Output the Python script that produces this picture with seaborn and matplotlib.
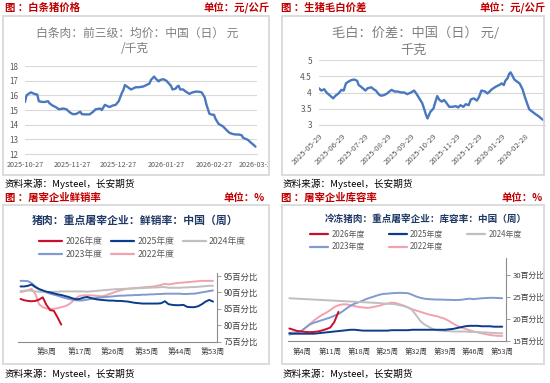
import matplotlib
matplotlib.use("Agg")
import matplotlib.pyplot as plt
from matplotlib.patches import Rectangle
from matplotlib.lines import Line2D
from matplotlib.transforms import Bbox, TransformedBbox
import seaborn as sns
import pandas as pd

# ---------------- data ----------------
# 白条肉 前三级均价 (day offset from 2025-10-27)
wb_day = [0, 1, 3, 4, 6, 8, 9, 11, 13, 15, 16, 18, 20, 22, 25, 27, 29, 31, 33, 36,
          37, 39, 42, 44, 46, 49, 50, 52, 55, 57, 59, 61, 63, 64, 65, 67, 69, 70, 72, 74,
          77, 79, 81, 82, 84, 85, 87, 88, 90, 92, 93, 95, 96, 98, 99, 100, 101, 103, 104, 107,
          109, 111, 113, 115, 117, 118, 120, 121, 123, 124, 126, 127, 129, 131, 133, 135, 137, 139, 141, 142,
          145, 147, 149, 150]
wb_price = [15.55, 16.0, 16.15, 16.2, 16.1, 16.05, 15.6, 15.55, 15.55, 15.6,
            15.45, 15.3, 15.2, 15.05, 15.1, 15.05, 14.85, 14.72, 14.72, 14.88,
            14.72, 14.7, 14.7, 14.85, 15.05, 15.1, 15.0, 15.35, 15.2, 15.3,
            15.35, 15.6, 16.15, 16.35, 16.7, 16.55, 16.4, 16.45, 16.55, 16.55,
            16.6, 16.7, 16.8, 17.05, 17.28, 17.15, 16.95, 17.05, 17.1, 17.0,
            16.88, 16.65, 16.4, 16.45, 16.6, 16.65, 16.4, 16.4, 16.3, 16.1,
            16.2, 16.25, 16.25, 16.2, 15.85, 15.4, 14.75, 14.7, 14.67, 14.4,
            14.05, 14.0, 13.87, 13.65, 13.45, 13.37, 13.33, 13.33, 13.28, 13.1,
            12.97, 12.78, 12.6, 12.5]
wb_ticks = ['2025-10-27', '2025-11-27', '2025-12-27', '2026-01-27', '2026-02-27', '2026-03-27']

# 毛白价差 (day offset from 2025-05-29)
mb_day = [0, 3, 7, 10, 14, 19, 22, 26, 30, 33, 36, 39, 43, 47, 51, 53, 56, 60, 62, 65,
          70, 73, 76, 80, 83, 87, 91, 94, 97, 101, 105, 110, 114, 118, 123, 125, 127, 130, 134, 138,
          141, 143, 145, 147, 149, 153, 155, 158, 161, 164, 167, 170, 174, 178, 183, 186, 189, 193, 196, 200,
          203, 207, 211, 214, 217, 222, 225, 228, 231, 235, 238, 241, 244, 247, 249, 252, 254, 256, 258, 261,
          265, 268, 272, 275, 278, 281, 285, 289, 294, 298, 302]
mb_spread = [4.13, 4.06, 4.1, 4.0, 3.92, 3.82, 3.9, 3.97, 4.08, 4.06,
             4.28, 4.33, 4.38, 4.4, 4.36, 4.23, 4.18, 4.1, 4.06, 4.13,
             4.16, 4.1, 4.06, 3.94, 3.9, 3.92, 3.97, 4.03, 4.08, 4.03,
             4.03, 4.0, 4.0, 3.95, 4.0, 4.03, 4.06, 3.97, 3.82, 3.67,
             3.46, 3.31, 3.2, 3.31, 3.41, 3.51, 3.67, 3.89, 3.77, 3.72,
             3.77, 3.69, 3.56, 3.56, 3.58, 3.54, 3.61, 3.56, 3.64, 3.61,
             3.79, 3.82, 3.75, 3.87, 4.06, 4.03, 3.97, 4.03, 4.1, 4.16,
             4.2, 4.23, 4.28, 4.23, 4.36, 4.44, 4.57, 4.62, 4.54, 4.4,
             4.33, 4.28, 4.1, 3.87, 3.67, 3.48, 3.41, 3.34, 3.26, 3.18, 3.13]
mb_ticks = ['2025-05-29', '2025-06-29', '2025-07-29', '2025-08-29', '2025-09-29',
            '2025-10-29', '2025-11-29', '2025-12-29', '2026-01-29', '2026-02-28']

years = ['2026年度', '2025年度', '2024年度', '2023年度', '2022年度']

# 鲜销率 (weekly)
fx_2026 = [88.0, 87.6, 87.4, 87.3, 87.4, 87.8, 88.5, 86.2, 84.6, 84.4, 82.4, 80.2]
fx_2025 = [91.8, 91.8, 92.0, 92.4, 91.6, 91.0, 90.6, 90.2, 90.0, 89.7,
           89.4, 89.2, 88.9, 88.6, 88.2, 87.9, 88.0, 88.4, 88.6, 88.3,
           88.0, 87.8, 87.7, 87.6, 87.5, 87.5, 87.4, 87.4, 87.3, 87.2,
           87.0, 86.8, 86.7, 86.6, 86.6, 86.6, 86.6, 86.6, 86.7, 87.3,
           86.4, 86.2, 86.1, 86.1, 86.2, 85.6, 85.5, 85.5, 85.8, 86.4,
           87.2, 87.7, 87.2]
fx_2024 = [90.4, 90.5, 90.6, 90.5, 90.3, 90.2, 90.1, 90.1, 90.1, 90.2,
           90.2, 90.3, 90.3, 90.3, 90.3, 90.3, 90.3, 90.3, 90.2, 90.3,
           90.4, 90.5, 90.6, 90.7, 90.8, 90.9, 91.0, 91.0, 91.1, 91.1,
           91.2, 91.2, 91.3, 91.3, 91.4, 91.4, 91.5, 91.5, 91.6, 91.6,
           91.4, 91.4, 91.4, 91.4, 91.5, 91.5, 91.6, 91.6, 91.7, 91.8,
           91.9, 92.0, 92.0]
fx_2023 = [93.5, 93.5, 93.4, 92.8, 91.8, 91.0, 90.5, 90.0, 89.6, 89.3,
           89.0, 88.6, 88.3, 88.0, 87.8, 87.6, 87.5, 87.6, 87.8, 88.0,
           88.2, 88.4, 88.5, 88.6, 88.7, 88.8, 88.9, 89.0, 89.0, 89.1,
           89.1, 89.2, 89.2, 89.3, 89.3, 89.4, 89.4, 89.5, 89.5, 89.6,
           89.6, 89.6, 89.6, 89.6, 89.5, 89.5, 89.6, 89.6, 89.8, 90.0,
           90.2, 90.4, 90.6]
fx_2022 = [90.1, 90.3, 90.6, 91.1, 89.5, 86.4, 85.5, 85.1, 85.0, 85.0,
           85.2, 85.5, 85.8, 86.3, 87.2, 88.3, 88.9, 89.1, 89.1, 89.1,
           89.0, 88.9, 88.8, 89.1, 89.5, 89.9, 90.3, 90.6, 90.9, 91.1,
           91.2, 91.3, 91.4, 91.5, 91.6, 91.7, 91.8, 92.0, 92.3, 92.6,
           92.4, 92.6, 92.8, 92.9, 93.0, 93.1, 93.2, 93.3, 93.4, 93.5,
           93.5, 93.5, 93.5]

# 库容率 (weekly)
kr_2026 = [17.8, 17.5, 17.2, 17.1, 17.0, 16.95, 17.0, 17.1, 17.35, 17.65, 18.0, 19.3, 21.6]
kr_2025 = [16.7, 16.6, 16.6, 16.6, 16.6, 16.6, 16.6, 16.7, 16.8, 16.9,
           17.0, 17.1, 17.2, 17.3, 17.4, 17.5, 17.5, 17.4, 17.3, 17.3,
           17.3, 17.3, 17.3, 17.3, 17.3, 17.4, 17.4, 17.4, 17.4, 17.4,
           17.5, 17.5, 17.5, 17.5, 17.5, 17.5, 17.5, 17.5, 17.5, 17.6,
           17.7, 17.9, 18.1, 18.3, 18.4, 18.4, 18.4, 18.3, 18.3, 18.3,
           18.2, 18.2, 18.2]
kr_2024 = [24.7, 24.65, 24.6, 24.55, 24.5, 24.45, 24.4, 24.35, 24.3, 24.25,
           24.2, 24.15, 24.1, 24.05, 24.0, 23.95, 23.9, 23.85, 23.8, 23.75,
           23.7, 23.65, 23.6, 23.5, 23.45, 23.4, 23.3, 23.1, 22.9, 22.6,
           22.0, 20.8, 19.5, 18.7, 18.2, 17.7, 17.4, 17.3, 17.2, 17.2,
           17.1, 17.1, 17.1, 17.1, 17.0, 17.0, 17.0, 16.9, 16.9, 16.8,
           16.8, 16.7, 16.7]
kr_2023 = [16.4, 16.6, 16.9, 17.3, 18.0, 18.7, 19.1, 19.4, 19.7, 20.0,
           20.3, 20.7, 21.1, 21.7, 22.4, 23.0, 23.5, 23.8, 24.2, 24.6,
           24.9, 25.2, 25.5, 25.7, 25.75, 25.85, 25.9, 25.95, 25.9, 25.85,
           25.5, 25.1, 24.8, 24.6, 24.5, 24.45, 24.4, 24.4, 24.35, 24.35,
           24.3, 24.3, 24.35, 24.5, 24.6, 24.5, 24.6, 24.7, 24.75, 24.8,
           24.8, 24.75, 24.7]
kr_2022 = [16.8, 16.9, 17.0, 17.2, 18.0, 18.8, 19.6, 20.3, 20.9, 21.4,
           22.0, 22.7, 23.1, 23.3, 23.3, 23.1, 22.9, 22.7, 22.6, 22.5,
           22.6, 22.8, 23.0, 23.3, 23.5, 23.7, 23.6, 23.3, 23.0, 22.6,
           22.2, 21.9, 21.6, 21.3, 21.0, 20.8, 20.6, 20.3, 20.0, 19.5,
           18.9, 18.4, 18.0, 17.7, 17.4, 17.1, 16.9, 16.7, 16.5, 16.3,
           16.2, 16.1, 16.1]

week_ticks_l = [8, 17, 26, 35, 44, 53]
week_ticks_r = [4, 11, 18, 25, 32, 39, 46, 53]

# ---------------- style ----------------
sns.set_style("white")
plt.rcParams['font.family'] = ['Noto Sans CJK SC', 'DejaVu Sans']
plt.rcParams['axes.unicode_minus'] = False

RED = '#C00000'
GRID = '#D9D9D9'
TXT = '#595959'
AXC = '#8C8C8C'
LINE_BLUE = '#4A78BE'
NAVY = '#1F3864'
year_colors = {'2026年度': '#C8102E', '2025年度': '#0B3C8C', '2024年度': '#BFBFBF',
               '2023年度': '#7F9BD0', '2022年度': '#F2A2AC'}

W, H = 550, 383
fig = plt.figure(figsize=(W / 100, H / 100), dpi=100)


def rect(x0, y0, x1, y1):
    return [x0 / W, 1 - y1 / H, (x1 - x0) / W, (y1 - y0) / H]


def put(x, y, s, **kw):
    kw.setdefault('va', 'center')
    return fig.text(x / W, 1 - y / H, s, **kw)


frames = [(3, 16, 269, 175), (282, 16, 544, 175), (3, 205, 269, 364), (282, 205, 544, 364)]
for x0, y0, x1, y1 in frames:
    fig.add_artist(Rectangle((x0 / W, 1 - y1 / H), (x1 - x0) / W, (y1 - y0) / H,
                             transform=fig.transFigure, fill=False, ec=GRID, lw=1.3))

hdr = dict(color=RED, fontsize=7.5, fontweight='bold')
put(5, 8, '图 ：白条猪价格', **hdr)
put(270, 8, '单位：元/公斤', ha='right', **hdr)
put(281, 8, '图 ：生猪毛白价差', **hdr)
put(546, 8, '单位：元/公斤', ha='right', **hdr)
put(5, 198, '图 ：屠宰企业鲜销率', **hdr)
put(265, 198, '单位：%', ha='right', **hdr)
put(281, 198, '图 ：屠宰企业库容率', **hdr)
put(543, 198, '单位：%', ha='right', **hdr)

src = dict(color='black', fontsize=6.9)
put(5, 184, '资料来源：Mysteel，长安期货', **src)
put(283, 184, '资料来源：Mysteel，长安期货', **src)
put(5, 374, '资料来源：Mysteel，长安期货', **src)
put(283, 374, '资料来源：Mysteel，长安期货', **src)

# ---------------- top-left: 白条肉 ----------------
ax1 = fig.add_axes(rect(25, 66, 257, 154))
d1 = pd.Timestamp('2025-10-27')
sns.lineplot(x=d1 + pd.to_timedelta(wb_day, unit='D'), y=wb_price, ax=ax1,
             color=LINE_BLUE, lw=1.7)
ax1.set_xlim(d1, pd.Timestamp(wb_ticks[-1]))
ax1.set_ylim(12, 18)
ax1.set_yticks(range(12, 19))
ax1.set_xticks(pd.to_datetime(wb_ticks))
ax1.set_xticklabels(wb_ticks)
ax1.grid(axis='y', color=GRID, lw=0.8)
ax1.grid(axis='x', visible=False)
for s in ['left', 'top', 'right']:
    ax1.spines[s].set_visible(False)
ax1.spines['bottom'].set_color(GRID)
ax1.tick_params(axis='x', length=3, color=GRID, labelsize=5.2, labelcolor=TXT, pad=2)
ax1.tick_params(axis='y', length=0, labelsize=5.8, labelcolor=TXT, pad=5)
ax1.set_xlabel('')
ax1.set_ylabel('')
clip1 = TransformedBbox(Bbox.from_extents(3 / W, 0, 268 / W, 1), fig.transFigure)
for lab in ax1.get_xticklabels():
    lab.set_clip_box(clip1)
    lab.set_clip_on(True)
put(137, 33, '白条肉：前三级：均价：中国（日） 元', ha='center', fontsize=8.5, color='#7F7F7F')
put(135, 48, '/千克', ha='center', fontsize=8.5, color='#7F7F7F')

# ---------------- top-right: 毛白价差 ----------------
ax2 = fig.add_axes(rect(319, 60, 545, 125))
d2 = pd.Timestamp('2025-05-29')
sns.lineplot(x=d2 + pd.to_timedelta(mb_day, unit='D'), y=mb_spread, ax=ax2,
             color=LINE_BLUE, lw=1.7)
ax2.set_xlim(d2, d2 + pd.Timedelta(days=mb_day[-1]))
ax2.set_ylim(3, 5)
ax2.set_yticks([3, 3.5, 4, 4.5, 5])
ax2.set_yticklabels(['3', '3.5', '4', '4.5', '5'])
ax2.set_xticks(pd.to_datetime(mb_ticks))
ax2.set_xticklabels(mb_ticks, rotation=45, ha='right', rotation_mode='anchor')
ax2.grid(axis='y', color=GRID, lw=0.8)
ax2.grid(axis='x', visible=False)
for s in ['left', 'top', 'right']:
    ax2.spines[s].set_visible(False)
ax2.spines['bottom'].set_color(GRID)
ax2.tick_params(axis='x', length=3, color=GRID, labelsize=5.6, labelcolor=TXT, pad=2)
ax2.tick_params(axis='y', length=0, labelsize=6, labelcolor=TXT, pad=5)
ax2.set_xlabel('')
ax2.set_ylabel('')
put(416, 33, '毛白：价差：中国（日） 元/', ha='center', fontsize=9.5, color='#7F7F7F')
put(414, 50, '千克', ha='center', fontsize=9.5, color='#7F7F7F')


# ---------------- bottom panels ----------------
def weekly_frame(series):
    rows = []
    for y, vals in zip(years, series):
        rows += [(y, i + 1, v) for i, v in enumerate(vals)]
    return pd.DataFrame(rows, columns=['year', 'week', 'value'])


def draw_weekly(ax, df, lw):
    for y in years[::-1]:
        sns.lineplot(data=df[df['year'] == y], x='week', y='value', ax=ax,
                     color=year_colors[y], lw=lw, legend=False)
    ax.set_xlabel('')
    ax.set_ylabel('')
    ax.grid(False)
    ax.yaxis.tick_right()
    for s in ['left', 'top']:
        ax.spines[s].set_visible(False)
    for s in ['right', 'bottom']:
        ax.spines[s].set_color(AXC)
        ax.spines[s].set_linewidth(0.8)
    ax.set_xticks(range(1, 54), minor=True)
    ax.tick_params(axis='x', which='both', length=3, color=AXC, width=0.6)
    ax.tick_params(axis='y', length=3, color=AXC, width=0.6)


def year_legend(ax, x, y, fs, hl, cs, ls):
    order = ['2026年度', '2023年度', '2025年度', '2022年度', '2024年度']
    handles = [Line2D([], [], color=year_colors[k], lw=1.6) for k in order]
    ax.legend(handles, order, ncol=3, loc='upper left', bbox_to_anchor=(x / W, 1 - y / H),
              bbox_transform=fig.transFigure, frameon=False, fontsize=fs, handlelength=hl,
              handletextpad=0.4, columnspacing=cs, labelspacing=ls, labelcolor=TXT,
              borderpad=0, borderaxespad=0)


fx = weekly_frame([fx_2026, fx_2025, fx_2024, fx_2023, fx_2022])
ax3 = fig.add_axes(rect(18.3, 273.3, 216.7, 341.7))
draw_weekly(ax3, fx, 1.4)
ax3.set_xlim(0.4, 54.0)
ax3.set_ylim(75, 95.8)
ax3.set_yticks([75, 80, 85, 90, 95])
ax3.set_yticklabels([f'{v}百分比' for v in [75, 80, 85, 90, 95]])
ax3.set_xticks(week_ticks_l)
ax3.set_xticklabels([f'第{w}周' for w in week_ticks_l])
ax3.tick_params(axis='x', labelsize=5.6, labelcolor='#404040', pad=2)
ax3.tick_params(axis='y', labelsize=6, labelcolor='#404040', pad=2)
year_legend(ax3, 39, 237, 6.3, 2.6, 1.0, 0.45)
put(135, 221, '猪肉：重点屠宰企业：鲜销率：中国（周）', ha='center', fontsize=7.8,
    fontweight='bold', color=NAVY)

kr = weekly_frame([kr_2026, kr_2025, kr_2024, kr_2023, kr_2022])
ax4 = fig.add_axes(rect(288.3, 258, 505.7, 340.7))
draw_weekly(ax4, kr, 1.4)
ax4.set_xlim(0.75, 53.85)
ax4.set_ylim(15, 33.9)
ax4.set_yticks([15, 20, 25, 30])
ax4.set_yticklabels([f'{v}百分比' for v in [15, 20, 25, 30]])
ax4.set_xticks(week_ticks_r)
ax4.set_xticklabels([f'第{w}周' for w in week_ticks_r])
ax4.tick_params(axis='x', labelsize=5.3, labelcolor='#404040', pad=2)
ax4.tick_params(axis='y', labelsize=5.6, labelcolor='#404040', pad=2)
year_legend(ax4, 310, 229.5, 5.7, 2.3, 3.0, 0.5)
put(426, 219, '冷冻猪肉：重点屠宰企业：库容率：中国（周）', ha='center', fontsize=6.9,
    fontweight='bold', color=NAVY)

fig.savefig('out.png', dpi=100)
